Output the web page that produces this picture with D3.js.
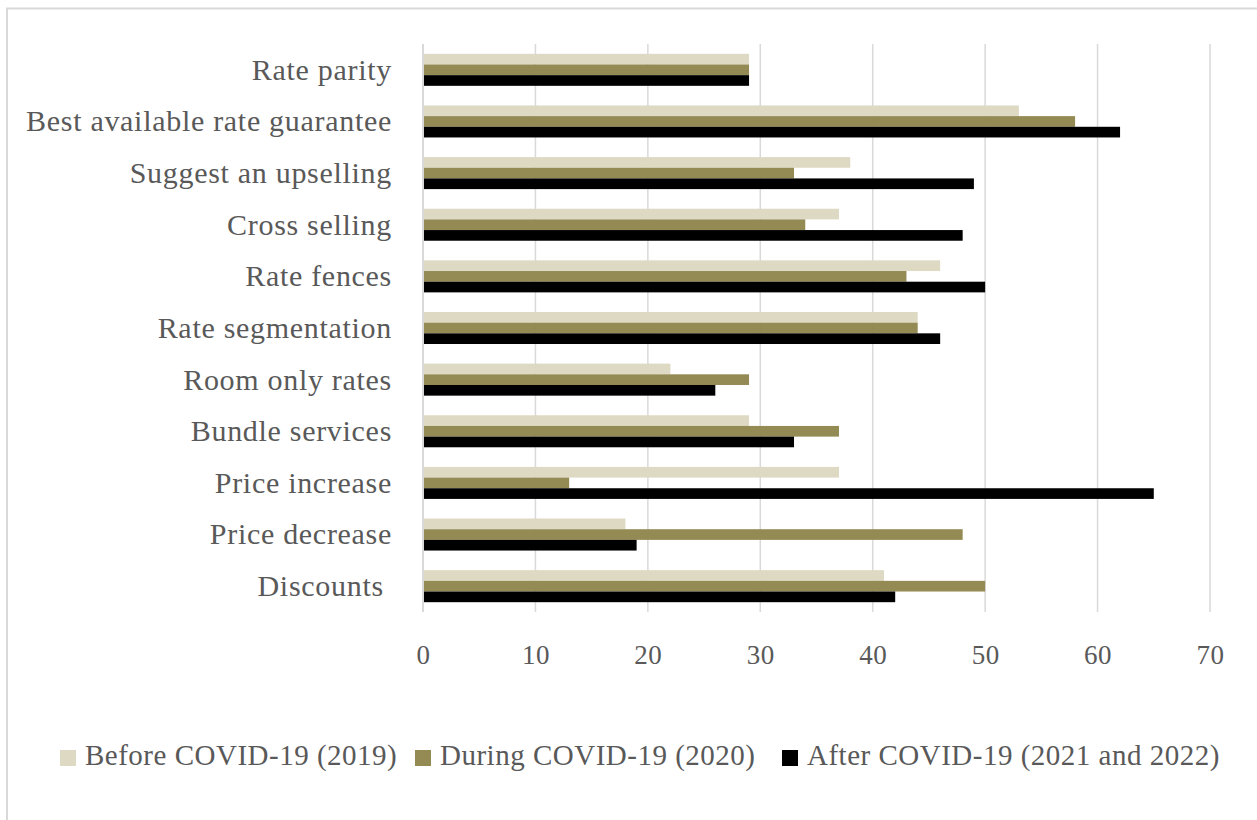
<!DOCTYPE html>
<html>
<head>
<meta charset="utf-8">
<script src="https://cdn.jsdelivr.net/npm/d3@7"></script>
<style>
  html, body { margin: 0; padding: 0; background: #fff; }
  svg { display: block; }
  text { font-family: "Liberation Serif", "DejaVu Serif", serif; fill: #595959; white-space: pre; }
</style>
</head>
<body>
<svg id="chart" width="1257" height="820"></svg>
<script>
// Pricing practices, top to bottom
const categories = [
  "Rate parity",
  "Best available rate guarantee",
  "Suggest an upselling",
  "Cross selling",
  "Rate fences",
  "Rate segmentation",
  "Room only rates",
  "Bundle services",
  "Price increase",
  "Price decrease",
  "Discounts "
];

const seriesNames = [
  "Before COVID-19 (2019)",
  "During COVID-19 (2020)",
  "After COVID-19 (2021 and 2022)"
];

const before2019 = [29, 53, 38, 37, 46, 44, 22, 29, 37, 18, 41];
const during2020 = [29, 58, 33, 34, 43, 44, 29, 37, 13, 48, 50];
const after2021  = [29, 62, 49, 48, 50, 46, 26, 33, 65, 19, 42];

const xTicks = [0, 10, 20, 30, 40, 50, 60, 70];

const colors = ["#ddd9c3", "#948a54", "#000000"];

const series = [before2019, during2020, after2021];

const svg = d3.select("#chart");

// outer chart frame
svg.append("rect")
  .attr("x", 7).attr("y", 8.5)
  .attr("width", 1262).attr("height", 830)
  .attr("fill", "none")
  .attr("stroke", "#d9d9d9")
  .attr("stroke-width", 2);

const plot = { left: 423, right: 1210, top: 44, bottom: 612 };

const x = d3.scaleLinear().domain([0, 70]).range([plot.left, plot.right]);
const y = d3.scaleBand().domain(categories).range([plot.top, plot.bottom])
  .paddingInner(0.38).paddingOuter(0.19);
const ySub = d3.scaleBand().domain(d3.range(series.length)).range([0, y.bandwidth()]);

// vertical gridlines
svg.append("g")
  .selectAll("line")
  .data(xTicks.slice(1))
  .join("line")
  .attr("x1", d => x(d)).attr("x2", d => x(d))
  .attr("y1", plot.top).attr("y2", plot.bottom)
  .attr("stroke", "#d9d9d9")
  .attr("stroke-width", 1.5);

// bars
series.forEach((vals, si) => {
  svg.append("g")
    .selectAll("rect")
    .data(vals)
    .join("rect")
    .attr("x", x(0))
    .attr("y", (d, i) => y(categories[i]) + ySub(si))
    .attr("width", d => x(d) - x(0))
    .attr("height", ySub.bandwidth())
    .attr("fill", colors[si]);
});

// category axis line
svg.append("line")
  .attr("x1", x(0)).attr("x2", x(0))
  .attr("y1", plot.top).attr("y2", plot.bottom)
  .attr("stroke", "#d9d9d9")
  .attr("stroke-width", 2);

// x axis tick labels
const xAxis = d3.axisBottom(x).tickValues(xTicks).tickSize(0).tickPadding(0);
const gx = svg.append("g").attr("transform", `translate(0, ${plot.bottom + 43})`).call(xAxis);
gx.select(".domain").remove();
gx.selectAll("text")
  .attr("dy", "0.34em")
  .style("font-size", "27px")
  .style("letter-spacing", "0.5px")
  .style("font-family", "Liberation Serif, serif")
  .attr("fill", "#595959");

// category labels
const yAxis = d3.axisLeft(y).tickSize(0).tickPadding(31);
const gy = svg.append("g").attr("transform", `translate(${plot.left}, 0)`).call(yAxis);
gy.select(".domain").remove();
gy.selectAll("text")
  .attr("dy", "0.33em")
  .style("font-size", "30px")
  .style("letter-spacing", "0.7px")
  .style("font-family", "Liberation Serif, serif")
  .attr("fill", "#595959");

// legend
const legendX = [60, 415, 782];
const legend = svg.append("g");
seriesNames.forEach((name, i) => {
  const g = legend.append("g").attr("transform", `translate(${legendX[i]}, 750)`);
  g.append("rect").attr("width", 16).attr("height", 16).attr("fill", colors[i]);
  g.append("text").attr("x", 25).attr("y", 15)
    .style("font-size", "29px")
    .style("letter-spacing", "0.5px")
    .text(name);
});
</script>
</body>
</html>
